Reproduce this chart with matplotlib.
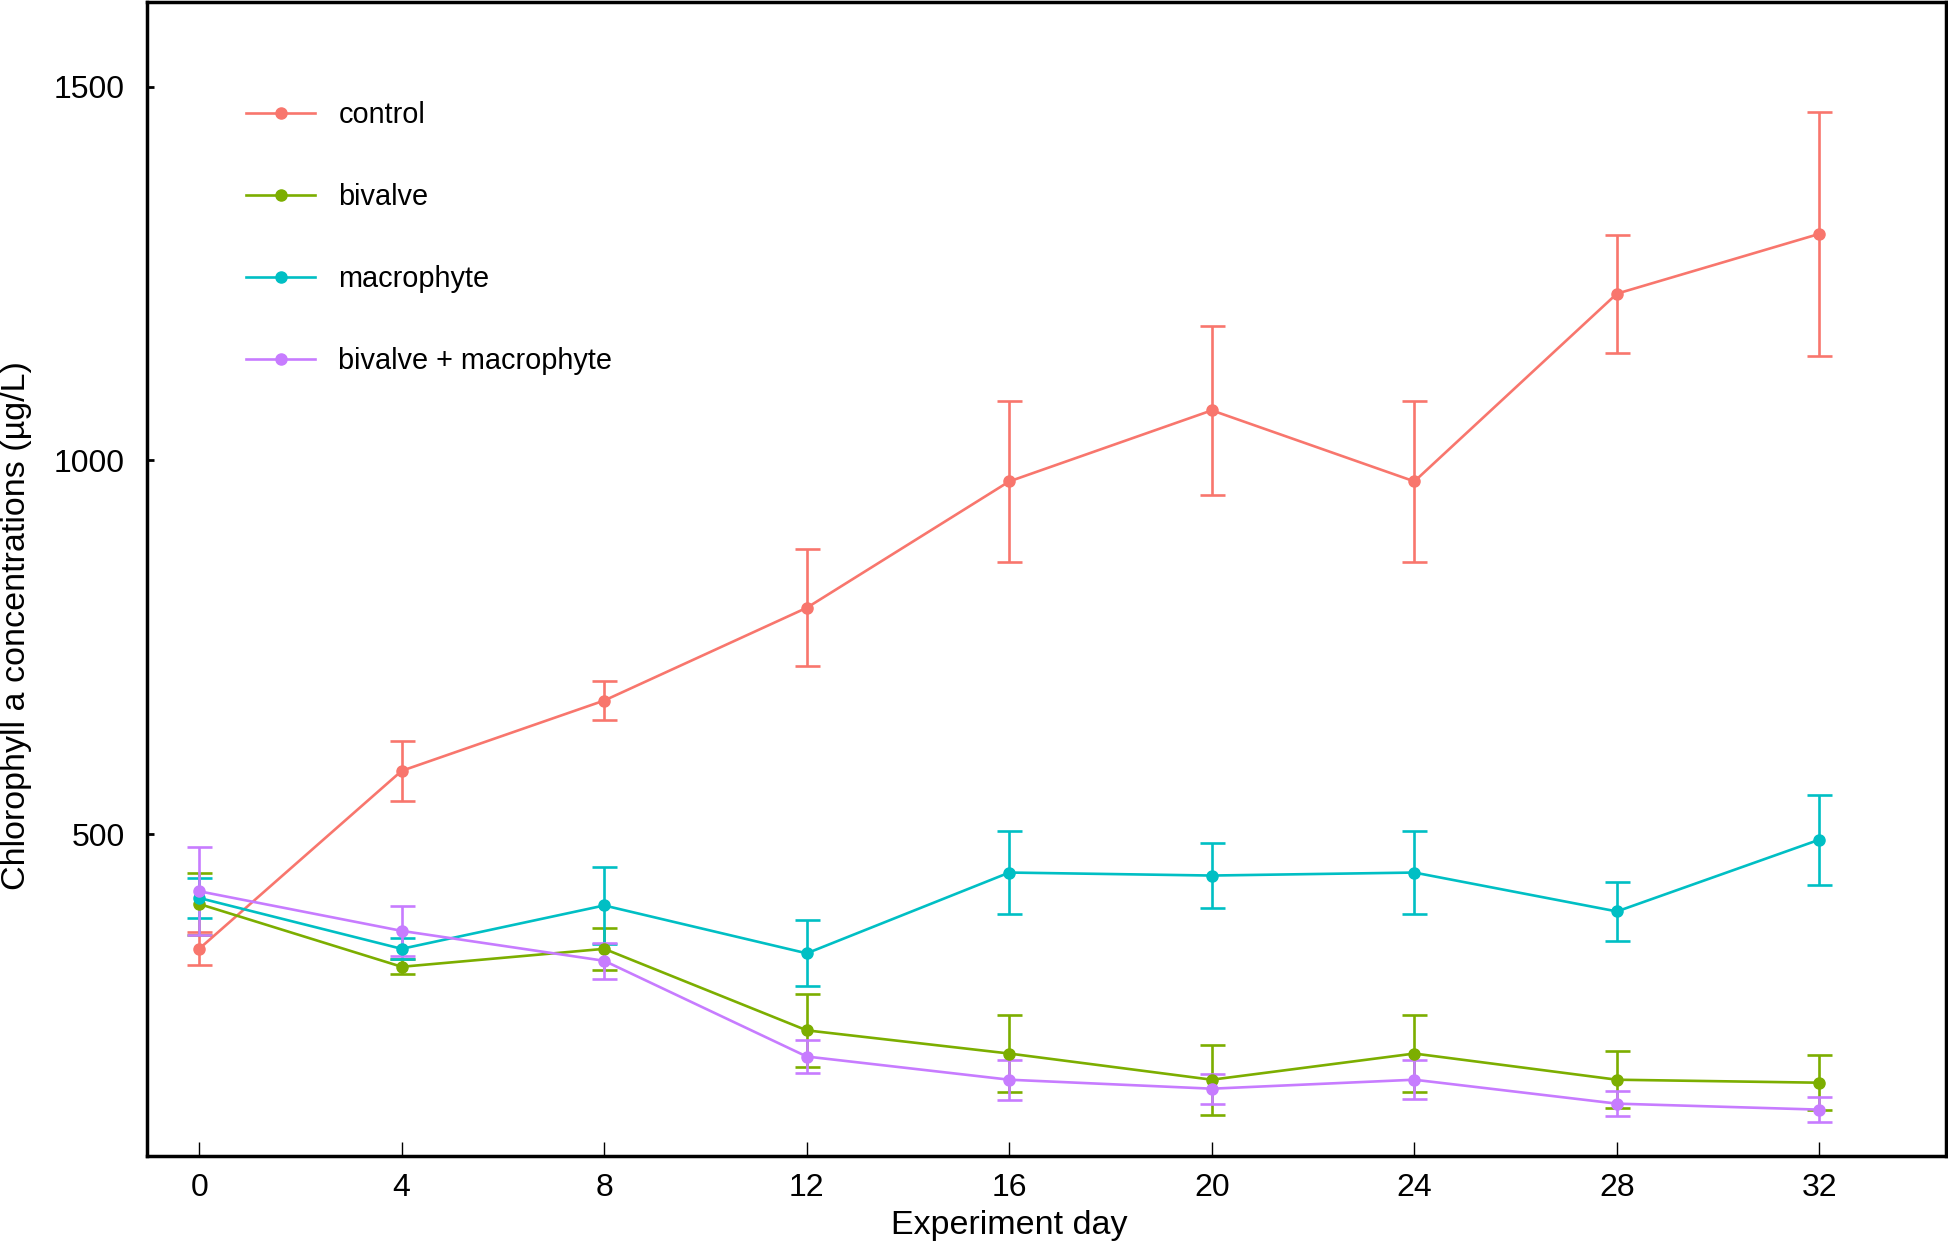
import matplotlib
matplotlib.use("Agg")
import matplotlib.pyplot as plt
from matplotlib.lines import Line2D
import numpy as np

days = [0, 4, 8, 12, 16, 20, 24, 28, 32]
series_names = ["control", "bivalve", "macrophyte", "bivalve + macrophyte"]
colors = ["#F8766D", "#7CAE00", "#00BFC4", "#C77CFF"]

control_mean = [347, 585, 679, 803, 972, 1067, 972, 1223, 1303]
control_err = [22, 40, 26, 78, 108, 113, 108, 79, 163]
bivalve_mean = [407, 323, 347, 238, 207, 172, 207, 172, 168]
bivalve_err = [42, 10, 28, 49, 52, 47, 52, 38, 37]
macrophyte_mean = [415, 347, 405, 341, 449, 445, 449, 397, 493]
macrophyte_err = [27, 14, 51, 44, 55, 43, 55, 40, 60]
both_mean = [424, 371, 331, 203, 172, 160, 172, 140, 132]
both_err = [59, 33, 24, 22, 27, 20, 26, 17, 17]

means = [control_mean, bivalve_mean, macrophyte_mean, both_mean]
errs = [control_err, bivalve_err, macrophyte_err, both_err]

plt.rcParams['font.family'] = ['Liberation Sans', 'DejaVu Sans']

fig = plt.figure(figsize=(19.49, 12.44), dpi=100)
ax = fig.add_axes([147/1949, 1 - 1156/1244, (1946-147)/1949, (1156-2)/1244])

handles = []
for name, m, e, c in zip(series_names, means, errs, colors):
    ax.errorbar(days, m, yerr=e, color=c, marker='o', markersize=8,
                linewidth=1.9, elinewidth=1.9, capsize=9, capthick=1.9)
    handles.append(Line2D([], [], color=c, marker='o', markersize=8,
                          linewidth=1.9, label=name))

xmin, xmax = -1.03, 34.5
ax.set_xlim(xmin, xmax)
ax.set_ylim(70, 1613)
ax.set_xticks(days)
ax.set_yticks([500, 1000, 1500])
ax.tick_params(axis='x', direction='in', length=10, width=1, labelsize=23, pad=12)
ax.tick_params(axis='y', direction='in', length=5, width=2, labelsize=23, pad=16)
for sp in ax.spines.values():
    sp.set_linewidth(2.5)

ax.set_xlabel("Experiment day", fontsize=24.5)
ax.xaxis.set_label_coords((16 - xmin) / (xmax - xmin), -0.047)
ax.set_ylabel("Chlorophyll a concentrations (µg/L)", fontsize=24.5)
ax.yaxis.set_label_coords(-0.064, (779 - 70) / (1613 - 70))

leg = ax.legend(handles=handles, loc='upper left', bbox_to_anchor=(0.055, 0.914),
                frameon=False, fontsize=20.8, labelspacing=1.87, handlelength=2.4,
                handletextpad=0.8, borderaxespad=0, borderpad=0)

fig.savefig("out.png", dpi=100)
